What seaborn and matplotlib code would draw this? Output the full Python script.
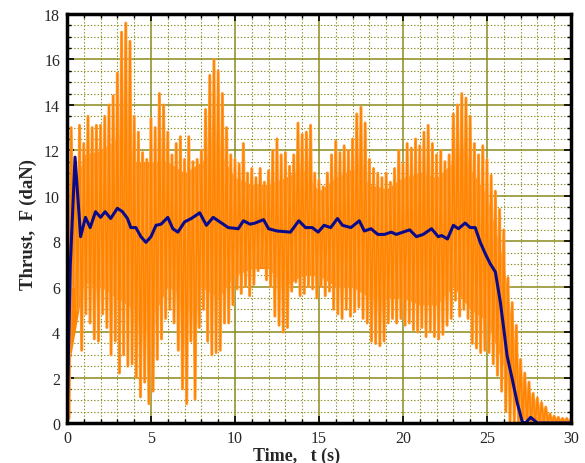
import numpy as np
import pandas as pd
import matplotlib
import matplotlib.pyplot as plt
from matplotlib.ticker import MultipleLocator
import seaborn as sns

matplotlib.use('Agg')

# raw signal: peak / trough envelope read every 0.25 s
DT = 0.25
raw_upper = [
    8.7, 13.0, 11.5, 13.1, 12.3, 13.5, 13.0, 13.1, 13.1, 13.5,
    14.0, 14.4, 15.4, 17.2, 17.6, 16.8, 13.5, 12.8, 11.9, 11.6,
    13.4, 13.0, 14.5, 14.0, 12.8, 11.8, 12.3, 12.6, 11.6, 12.6,
    11.5, 11.6, 12.0, 13.8, 15.3, 16.0, 15.5, 14.5, 13.0, 11.8,
    11.6, 11.4, 12.3, 11.0, 11.2, 10.8, 11.2, 10.6, 11.1, 12.0,
    12.5, 11.8, 11.9, 11.3, 11.8, 13.2, 12.7, 12.8, 13.1, 11.0,
    10.7, 10.4, 11.0, 11.8, 12.4, 11.9, 12.2, 12.0, 12.5, 13.6,
    13.9, 13.2, 11.6, 11.2, 11.0, 10.8, 11.0, 10.6, 11.2, 12.0,
    11.4, 12.3, 12.1, 12.5, 12.2, 12.8, 13.1, 12.3, 11.8, 12.0,
    11.5, 11.8, 13.6, 14.0, 14.5, 14.3, 13.5, 12.3, 11.8, 12.2,
    11.6, 10.9, 10.2, 9.4, 8.5, 6.4, 5.3, 4.3, 2.8, 2.2,
    1.8, 1.3, 1.1, 0.9, 0.7, 0.4, 0.3, 0.25, 0.2, 0.2,
    0.15,
]
raw_lower = [
    0.2, 6.0, 5.0, 3.2, 4.8, 4.4, 3.7, 3.6, 4.8, 4.2,
    3.0, 3.6, 2.2, 3.0, 2.5, 2.6, 2.0, 1.15, 1.8, 0.85,
    1.4, 2.8, 3.7, 4.6, 5.0, 4.4, 3.2, 1.5, 0.85, 3.6,
    1.05, 4.2, 5.0, 3.6, 3.0, 3.1, 3.2, 4.4, 4.4, 5.2,
    5.9, 5.7, 6.0, 5.6, 6.1, 6.7, 6.9, 6.3, 6.0, 4.7,
    4.3, 4.0, 4.2, 5.8, 6.2, 5.6, 5.7, 6.0, 5.9, 5.5,
    6.0, 5.6, 5.8, 5.0, 4.8, 4.6, 5.0, 4.7, 4.9, 5.1,
    4.6, 4.4, 3.6, 3.5, 3.4, 3.6, 4.4, 4.6, 4.4, 4.6,
    4.3, 4.4, 4.1, 4.0, 4.2, 3.8, 4.0, 3.8, 3.7, 3.9,
    4.3, 4.6, 5.4, 4.7, 5.0, 4.6, 3.5, 3.3, 3.1, 3.2,
    3.1, 2.6, 2.1, 1.4, 0.5, 0.0, 0.0, 0.0, 0.0, 0.0,
    0.0, 0.0, 0.0, 0.0, 0.0, 0.0, 0.0, 0.0, 0.0, 0.0,
    0.0,
]

# solid-looking core of the raw trace, read every 1 s
core_t = list(range(31))
core_hi = [
    9.0, 11.8, 12.0, 12.5, 11.5, 11.5, 11.5, 11.0, 11.5, 12.0,
    10.8, 10.5, 10.5, 10.8, 11.2, 10.2, 10.8, 11.2, 10.5, 10.3,
    10.8, 11.0, 10.8, 11.5, 11.2, 10.0, 7.0, 1.5, 0.5, 0.2, 0.1,
]
core_lo = [
    2.0, 6.2, 6.0, 5.5, 5.0, 4.5, 6.0, 5.5, 6.0, 5.5,
    6.5, 6.8, 6.8, 6.0, 6.5, 6.5, 6.0, 6.0, 5.5, 5.5,
    5.5, 5.2, 5.2, 6.0, 5.0, 4.5, 2.5, 0.2, 0.0, 0.0, 0.0,
]

# smoothed thrust
smooth_t = [
    0.0, 0.2, 0.48, 0.81, 1.1, 1.38, 1.7, 2.0, 2.27, 2.6, 3.0, 3.3, 3.6,
    3.8, 4.1, 4.4, 4.7, 5.0, 5.3, 5.6, 6.0, 6.3, 6.6, 7.0, 7.4, 7.9, 8.3,
    8.7, 9.0, 9.6, 10.2, 10.5, 10.9, 11.2, 11.7, 12.0, 12.5, 13.3, 13.8,
    14.2, 14.6, 14.95, 15.3, 15.7, 16.1, 16.4, 16.9, 17.4, 17.7, 18.1,
    18.5, 18.9, 19.3, 19.6, 20.4, 20.8, 21.2, 21.7, 22.1, 22.3, 22.65,
    23.0, 23.3, 23.7, 24.0, 24.3, 24.6, 24.9, 25.2, 25.5, 25.8, 26.0,
    26.2, 26.5, 26.8, 27.1, 27.3, 27.6, 28.0, 29.0, 30.0,
]
smooth_f = [
    0.0, 7.0, 11.7, 8.2, 9.05, 8.6, 9.3, 9.05, 9.3, 9.0, 9.45, 9.3, 9.0,
    8.6, 8.6, 8.2, 7.95, 8.2, 8.7, 8.75, 9.05, 8.55, 8.4, 8.85, 9.0, 9.25, 8.7,
    9.05, 8.9, 8.6, 8.55, 8.9, 8.75, 8.8, 8.95, 8.55, 8.45, 8.4, 8.9,
    8.6, 8.6, 8.4, 8.7, 8.6, 9.0, 8.7, 8.6, 8.9, 8.45, 8.55,
    8.3, 8.3, 8.4, 8.3, 8.5, 8.2, 8.3, 8.55, 8.2, 8.25, 8.1,
    8.7, 8.55, 8.8, 8.6, 8.6, 7.95, 7.45, 7.0, 6.65, 5.3, 4.15,
    2.95, 1.95, 0.9, 0.05, 0.0, 0.25, 0.0, 0.0, 0.0,
]

OLIVE = '#8c8c1e'
ORANGE = '#ff8400'


def _raw_frame():
    """Zig-zag the read peaks and troughs into one trace."""
    n = len(raw_upper)
    base = np.arange(n) * DT
    t = np.empty(2 * n)
    f = np.empty(2 * n)
    t[0::2] = base
    t[1::2] = base + DT / 2
    f[0::2] = raw_upper
    f[1::2] = raw_lower
    return pd.DataFrame({"t": t, "F": f})


def plot_thrust():
    sns.set_style('white')
    plt.rcParams['font.family'] = ['Liberation Serif', 'DejaVu Serif']

    fig = plt.figure(figsize=(5.85, 4.64), dpi=100)
    ax = fig.add_axes([0.1145, 0.0862, 0.8615, 0.8815])

    # grid
    ax.xaxis.set_major_locator(MultipleLocator(5))
    ax.xaxis.set_minor_locator(MultipleLocator(1))
    ax.yaxis.set_major_locator(MultipleLocator(2))
    ax.yaxis.set_minor_locator(MultipleLocator(0.5))
    ax.grid(True, which='major', color=OLIVE, linewidth=1.1, linestyle='-')
    ax.grid(True, which='minor', color=OLIVE, linewidth=0.8, linestyle=(0, (1.2, 1.8)))
    ax.set_axisbelow(True)

    # raw trace: dense core plus the peak/trough zig-zag
    ax.fill_between(core_t, core_lo, core_hi, color=ORANGE, linewidth=0, zorder=2)
    raw = _raw_frame()
    sns.lineplot(data=raw, x="t", y="F", ax=ax, color='#ffa54a',
                 linewidth=2.2, estimator=None, sort=False, zorder=2)
    sns.lineplot(data=raw, x="t", y="F", ax=ax, color=ORANGE,
                 linewidth=1.2, estimator=None, sort=False, zorder=2)

    smooth = pd.DataFrame({"t": smooth_t, "F": smooth_f})
    sns.lineplot(data=smooth, x="t", y="F", ax=ax, color='#0b0b8a',
                 linewidth=2.2, estimator=None, sort=False, zorder=3)

    ax.set_xlim(0, 30)
    ax.set_ylim(0, 18)
    for s in ax.spines.values():
        s.set_visible(True)
        s.set_color('black')
        s.set_linewidth(2.5)
        s.set_zorder(4)
    ax.tick_params(which='both', direction='in', color='black',
                   top=True, right=True, left=True, bottom=True)
    ax.tick_params(which='major', length=5, width=1.2, labelsize=11.5, pad=5)
    ax.tick_params(which='minor', length=3, width=1.0)

    ax.set_xlabel("Time,   t (s)", fontsize=13, fontweight='bold')
    ax.set_ylabel("Thrust,  F (daN)", fontsize=13.5, fontweight='bold')
    ax.xaxis.set_label_coords(0.455, -0.059)
    ax.yaxis.set_label_coords(-0.06, 0.487)

    fig.savefig("out.png", dpi=100)
    plt.close(fig)


if __name__ == "__main__":
    plot_thrust()
